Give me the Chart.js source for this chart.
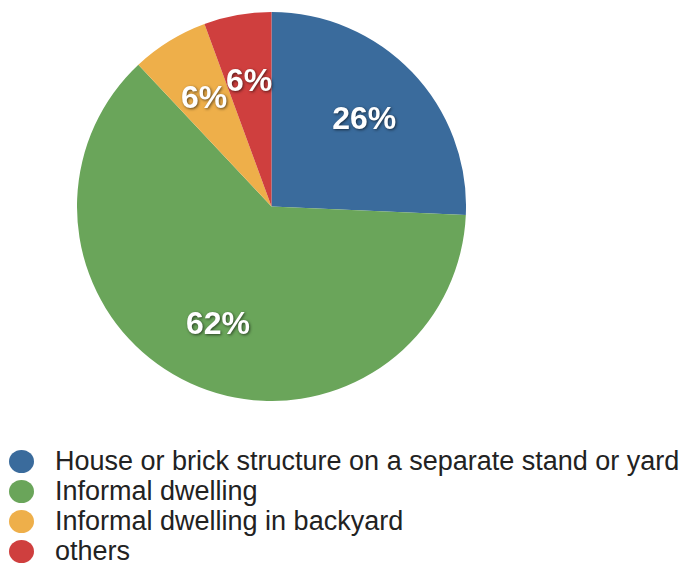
<!DOCTYPE html>
<html><head><meta charset="utf-8">
<script src="https://cdn.jsdelivr.net/npm/chart.js@4"></script>
<style>
html,body{margin:0;padding:0;background:#fff;width:681px;height:563px;overflow:hidden;font-family:"Liberation Sans",Arial,sans-serif;}
#wrap{position:absolute;left:77px;top:12px;width:389px;height:389px;}
#legend{position:absolute;left:0;top:446px;}
.item{position:relative;height:30px;line-height:30px;font-size:27px;color:#222;white-space:nowrap;}
.dot{position:absolute;left:9px;top:4px;width:25px;height:23px;border-radius:50%;}
.txt{position:absolute;left:55px;top:0;}
</style></head><body>
<div id="wrap"><canvas id="c"></canvas></div>
<div id="legend"></div>
<script>
const categories = ["House or brick structure on a separate stand or yard","Informal dwelling","Informal dwelling in backyard","others"];
const values = [25.7, 62.3, 6.4, 5.6];
const pctLabels = ["26%","62%","6%","6%"];
const colors = ["#3a6b9c","#6aa55a","#eeaf4a","#cf3f3e"];

const labelPlugin = {
  id:'sliceLabels',
  afterDatasetsDraw(chart){
    const ctx = chart.ctx;
    const meta = chart.getDatasetMeta(0);
    ctx.save();
    ctx.font = 'bold 32px "Liberation Sans", Arial, sans-serif';
    ctx.textAlign = 'center';
    ctx.textBaseline = 'middle';
    ctx.fillStyle = '#fff';
    ctx.shadowColor = 'rgba(0,0,0,0.6)';
    ctx.shadowBlur = 3;
    ctx.shadowOffsetX = 1;
    ctx.shadowOffsetY = 1;
    meta.data.forEach((arc,i)=>{
      const a = (arc.startAngle + arc.endAngle)/2;
      const r = arc.outerRadius*0.66;
      ctx.fillText(pctLabels[i], arc.x + Math.cos(a)*r, arc.y + Math.sin(a)*r + 2);
    });
    ctx.restore();
  }
};

new Chart(document.getElementById('c'),{
  type:'pie',
  data:{labels:categories,datasets:[{data:values,backgroundColor:colors,borderWidth:0}]},
  options:{responsive:true,maintainAspectRatio:false,animation:false,
    layout:{padding:0},
    plugins:{legend:{display:false},tooltip:{enabled:false}}},
  plugins:[labelPlugin]
});

const lg = document.getElementById('legend');
categories.forEach((c,i)=>{
  const d = document.createElement('div'); d.className='item';
  d.innerHTML = '<span class="dot" style="background:'+colors[i]+'"></span><span class="txt"></span>';
  d.querySelector('.txt').textContent = c;
  lg.appendChild(d);
});
</script>
</body></html>
